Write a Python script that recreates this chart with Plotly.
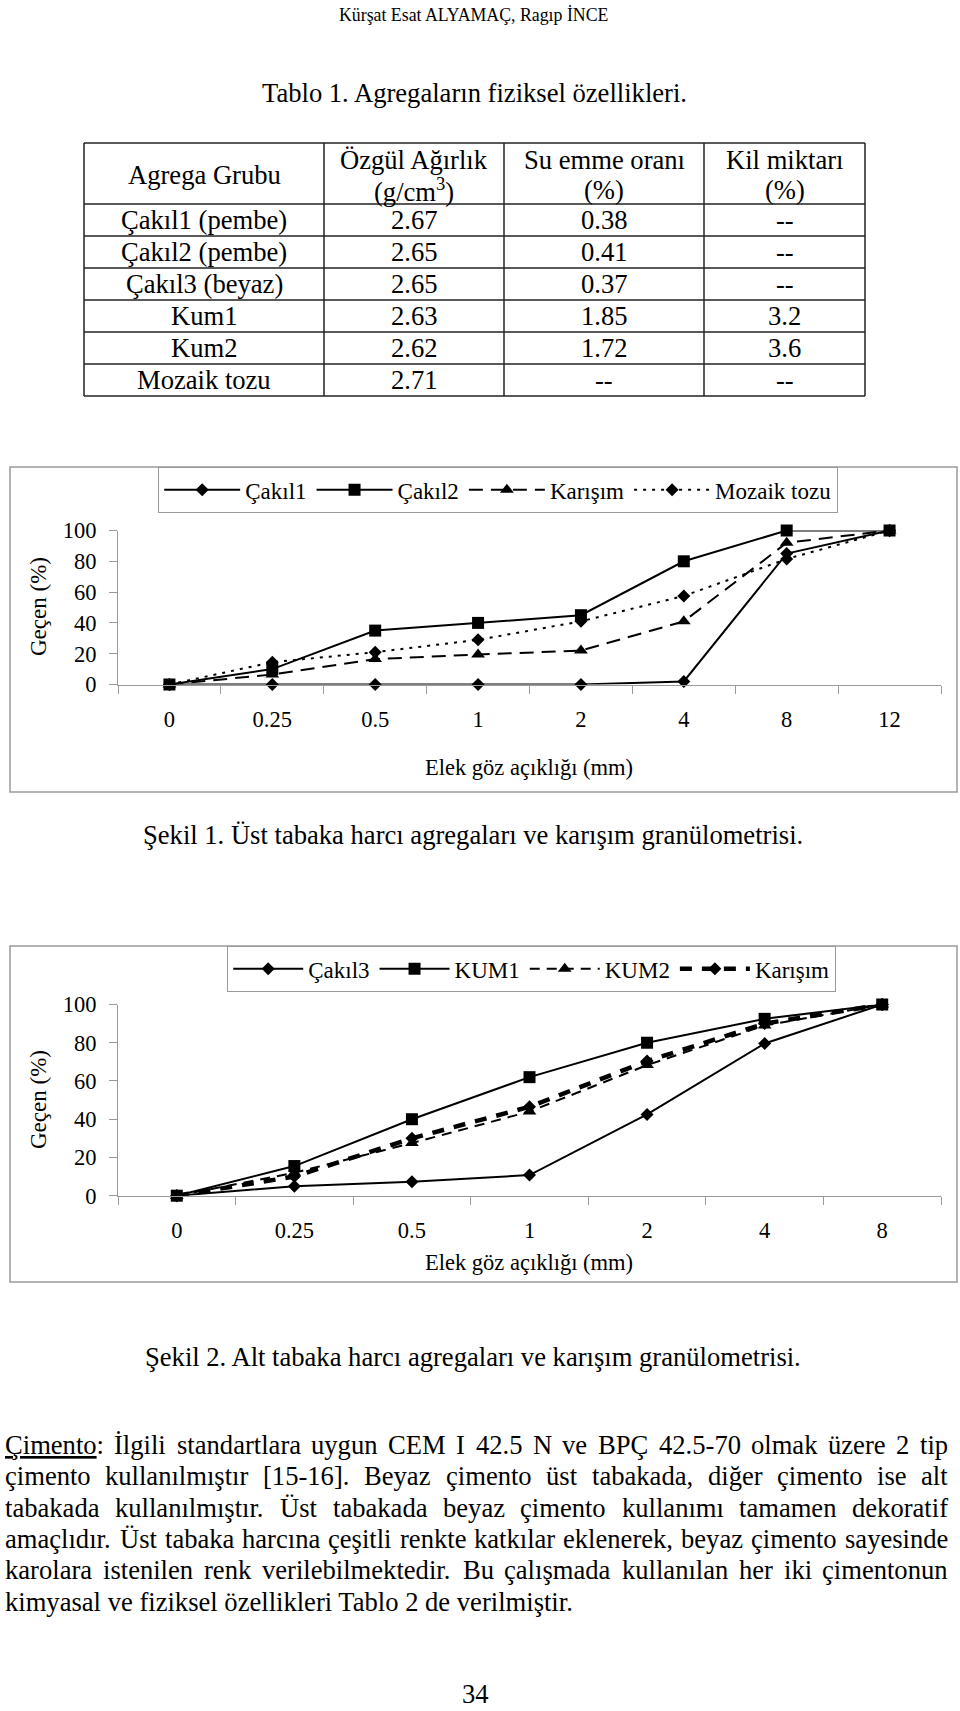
import plotly.graph_objects as go

# ---------------- data ----------------
header_text = "Kürşat Esat ALYAMAÇ, Ragıp İNCE"
table_title = "Tablo 1. Agregaların fiziksel özellikleri."
table_cols = [["Agrega Grubu"], ["Özgül Ağırlık", "(g/cm<sup>3</sup>)"], ["Su emme oranı", "(%)"], ["Kil miktarı", "(%)"]]
groups = ["Çakıl1 (pembe)", "Çakıl2 (pembe)", "Çakıl3 (beyaz)", "Kum1", "Kum2", "Mozaik tozu"]
ozgul = ["2.67", "2.65", "2.65", "2.63", "2.62", "2.71"]
su_emme = ["0.38", "0.41", "0.37", "1.85", "1.72", "--"]
kil = ["--", "--", "--", "3.2", "3.6", "--"]

sieve1 = ["0", "0.25", "0.5", "1", "2", "4", "8", "12"]
cakil1 = [0, 0, 0, 0, 0, 2, 85, 100]
cakil2 = [0, 10, 35, 40, 45, 80, 100, 100]
karisim1 = [0, 6.5, 16.5, 19.5, 22, 41, 92, 100]
mozaik = [0, 14.5, 21, 29, 41, 57.5, 81.5, 100]

sieve2 = ["0", "0.25", "0.5", "1", "2", "4", "8"]
cakil3 = [0, 5, 7.3, 10.8, 42.5, 79.6, 100]
kum1 = [0, 15.5, 40, 62, 80, 92.5, 100]
kum2 = [0, 12, 27.5, 44, 68.3, 89, 100]
karisim2 = [0, 10, 30, 46.5, 70.4, 90, 100]

y_ticks = [0, 20, 40, 60, 80, 100]
x_title = "Elek göz açıklığı (mm)"
y_title = "Geçen (%)"
caption1 = "Şekil 1. Üst tabaka harcı agregaları ve karışım granülometrisi."
caption2 = "Şekil 2. Alt tabaka harcı agregaları ve karışım granülometrisi."
body_lines = [
    "<u>Çimento</u>: İlgili standartlara uygun CEM I 42.5 N ve BPÇ 42.5-70 olmak üzere 2 tip",
    "çimento kullanılmıştır [15-16]. Beyaz çimento üst tabakada, diğer çimento ise alt",
    "tabakada kullanılmıştır. Üst tabakada beyaz çimento kullanımı tamamen dekoratif",
    "amaçlıdır. Üst tabaka harcına çeşitli renkte katkılar eklenerek, beyaz çimento sayesinde",
    "karolara istenilen renk verilebilmektedir. Bu çalışmada kullanılan her iki çimentonun",
    "kimyasal ve fiziksel özellikleri Tablo 2 de verilmiştir.",
]
page_no = "34"

# ---------------- helpers ----------------
W, H = 960, 1711
SERIF = "Liberation Serif"


def px(x):
    return x / W


def py(y):
    return 1 - y / H


annotations = []
shapes = []


def text(x, y, s, size, xanchor="center", **kw):
    annotations.append(dict(x=px(x), y=py(y), xref="paper", yref="paper", text=s,
                            showarrow=False, xanchor=xanchor, yanchor="middle",
                            font=dict(family=SERIF, size=size, color="black"), **kw))


def hline(x0, x1, y, color="#222", width=1.5):
    shapes.append(dict(type="line", xref="paper", yref="paper", x0=px(x0), x1=px(x1),
                       y0=py(y), y1=py(y), line=dict(color=color, width=width)))


def vline(x, y0, y1, color="#222", width=1.5):
    shapes.append(dict(type="line", xref="paper", yref="paper", x0=px(x), x1=px(x),
                       y0=py(y0), y1=py(y1), line=dict(color=color, width=width)))


# Times metrics (per 1000 em)
CW = {' ': 250, 'a': 444, 'b': 500, 'c': 444, 'd': 500, 'e': 444, 'f': 333, 'g': 500, 'h': 500,
      'i': 278, 'j': 278, 'k': 500, 'l': 278, 'm': 778, 'n': 500, 'o': 500, 'p': 500, 'q': 500,
      'r': 333, 's': 389, 't': 278, 'u': 500, 'v': 500, 'w': 722, 'x': 500, 'y': 500, 'z': 444,
      'A': 722, 'B': 667, 'C': 667, 'D': 722, 'E': 611, 'F': 556, 'G': 722, 'H': 722, 'I': 333,
      'J': 389, 'K': 722, 'L': 611, 'M': 889, 'N': 722, 'O': 722, 'P': 556, 'Q': 722, 'R': 667,
      'S': 556, 'T': 611, 'U': 722, 'V': 722, 'W': 944, 'X': 722, 'Y': 722, 'Z': 611,
      '.': 250, ',': 250, ':': 278, ';': 278, '-': 333, '[': 333, ']': 333, '(': 333, ')': 333,
      '%': 833, '/': 278, 'ç': 444, 'ş': 389, 'ğ': 500, 'ı': 278, 'ö': 500, 'ü': 500,
      'İ': 333, 'Ç': 667, 'Ş': 556, 'Ü': 722, 'Ö': 722, 'Ğ': 722}


def tw(s, size):
    import re
    s = re.sub(r"<[^>]+>", "", s)
    return sum(CW.get(c, 500) for c in s) * size / 1000


# ---------------- page text ----------------
BODY = 26.6
text(473, 15, header_text, 17.8)
text(474, 93, table_title, BODY)

# table
cx = [84, 324, 504, 704, 865]
ry = [143, 204, 236, 268, 300, 332, 364, 396]
for y in ry:
    hline(cx[0], cx[-1], y)
for x in cx:
    vline(x, ry[0], ry[-1])
for j, col in enumerate(table_cols):
    xc = (cx[j] + cx[j + 1]) / 2
    if len(col) == 1:
        text(xc, 175, col[0], BODY)
    else:
        text(xc, 160, col[0], BODY)
        text(xc, 190, col[1], BODY)
for i in range(len(groups)):
    yc = (ry[i + 1] + ry[i + 2]) / 2
    for j, val in enumerate([groups[i], ozgul[i], su_emme[i], kil[i]]):
        text((cx[j] + cx[j + 1]) / 2, yc, val, BODY)

# chart boxes
for (t, b) in [(467, 792), (946, 1282)]:
    shapes.append(dict(type="rect", xref="paper", yref="paper", x0=px(10), x1=px(957),
                       y0=py(b), y1=py(t), line=dict(color="#9a9a9a", width=1.5)))

# axis titles
CH = 22.5
text(38, 607, y_title, 23, textangle=-90)
text(38, 1100, y_title, 23, textangle=-90)
text(529, 768, x_title, CH)
text(529, 1262, x_title, CH)

text(473, 835, caption1, BODY)
text(473, 1357, caption2, BODY)

# justified body text
LEFT, RIGHT = 3, 946
for k, line in enumerate(body_lines):
    y = 1445 + k * 31.3
    if k == len(body_lines) - 1:
        text(LEFT, y, line, BODY, xanchor="left")
        continue
    words = line.split(" ")
    widths = [tw(w, BODY) for w in words]
    gap = (RIGHT - LEFT - sum(widths)) / (len(words) - 1)
    x = LEFT
    for w, wd in zip(words, widths):
        text(x, y, w, BODY, xanchor="left")
        x += wd + gap

text(475, 1694, page_no, BODY)

# ---------------- charts ----------------
fig = go.Figure()

LW = 2
s1 = [
    ("Çakıl1", cakil1, dict(color="black", width=LW), dict(symbol="diamond", size=10)),
    ("Çakıl2", cakil2, dict(color="black", width=LW), dict(symbol="square", size=12)),
    ("Karışım", karisim1, dict(color="black", width=LW, dash="14px,8px"), dict(symbol="triangle-up", size=12)),
    ("Mozaik tozu", mozaik, dict(color="black", width=LW, dash="3px,6px"), dict(symbol="diamond", size=10)),
]
for name, vals, line, marker in s1:
    fig.add_trace(go.Scatter(x=sieve1, y=vals, name=name, mode="lines+markers", line=line,
                             marker=dict(color="black", **marker), cliponaxis=False,
                             xaxis="x", yaxis="y", legend="legend"))

s2 = [
    ("Çakıl3", cakil3, dict(color="black", width=LW), dict(symbol="diamond", size=10)),
    ("KUM1", kum1, dict(color="black", width=LW), dict(symbol="square", size=12)),
    ("KUM2", kum2, dict(color="black", width=LW, dash="10px,7px"), dict(symbol="triangle-up", size=12)),
    ("Karışım", karisim2, dict(color="black", width=4.5, dash="12px,10px"), dict(symbol="diamond", size=10)),
]
for name, vals, line, marker in s2:
    fig.add_trace(go.Scatter(x=sieve2, y=vals, name=name, mode="lines+markers", line=line,
                             marker=dict(color="black", **marker), cliponaxis=False,
                             xaxis="x2", yaxis="y2", legend="legend2"))

AX = "#9a9a9a"
xcommon = dict(type="category", showline=True, linecolor=AX, linewidth=1.2, ticks="outside",
               tickson="boundaries", ticklen=8, tickcolor=AX, showgrid=False, zeroline=False,
               tickfont=dict(family=SERIF, size=CH, color="black"), ticklabelstandoff=14)
ycommon = dict(range=[0, 100], tickvals=y_ticks, showline=True, linecolor=AX, linewidth=1.2,
               ticks="outside", ticklen=8, tickcolor=AX, showgrid=False, zeroline=False,
               tickfont=dict(family=SERIF, size=CH, color="black"), ticklabelstandoff=8)

legcommon = dict(orientation="h", xanchor="left", yanchor="top", bgcolor="white",
                 bordercolor=AX, borderwidth=1.2,
                 font=dict(family=SERIF, size=23, color="black"))

fig.update_layout(
    width=W, height=H, margin=dict(l=0, r=0, t=0, b=0, autoexpand=False),
    paper_bgcolor="white", plot_bgcolor="white",
    xaxis=dict(domain=[px(118), px(941)], anchor="y", range=[-0.5, 7.5],
               categoryorder="array", categoryarray=sieve1, automargin=False, **xcommon),
    yaxis=dict(domain=[py(684.5), py(530.5)], anchor="x", automargin=False, **ycommon),
    xaxis2=dict(domain=[px(118), px(941)], anchor="y2", range=[-0.5, 6.5],
                categoryorder="array", categoryarray=sieve2, automargin=False, **xcommon),
    yaxis2=dict(domain=[py(1195.7), py(1004.5)], anchor="x2", automargin=False, **ycommon),
    legend=dict(x=px(158), y=py(467), itemwidth=76, **legcommon),
    legend2=dict(x=px(227), y=py(946), itemwidth=70, **legcommon),
    annotations=annotations,
    shapes=shapes,
)

fig.write_html(
    "out.html",
    config={"displayModeBar": False},
    post_script="document.body.style.margin='0';document.body.style.padding='0';"
                "document.documentElement.style.overflow='hidden';",
)
